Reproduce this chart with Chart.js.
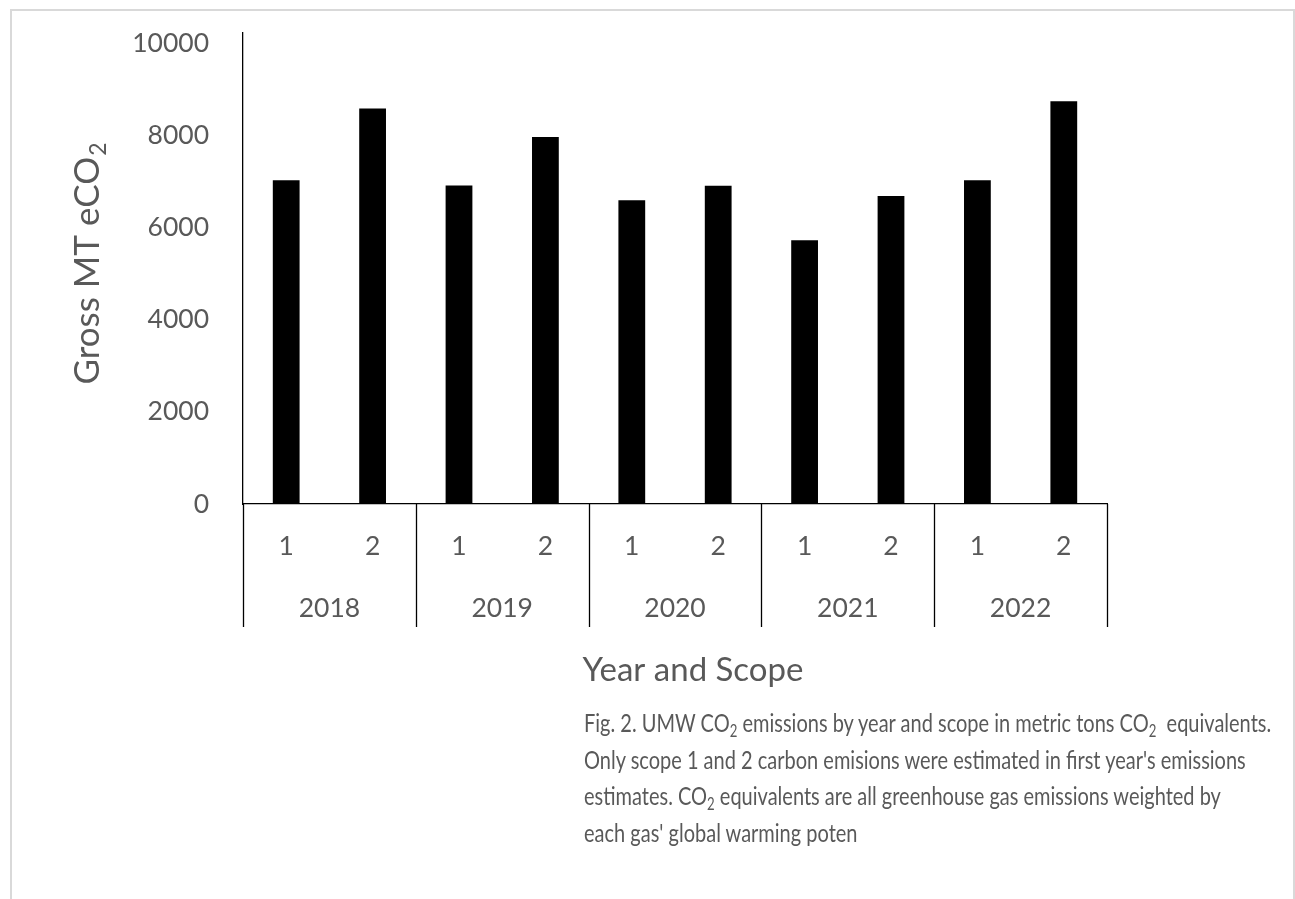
<!DOCTYPE html>
<html>
<head>
<meta charset="utf-8">
<title>UMW CO2 emissions by year and scope</title>
<script src="https://cdn.jsdelivr.net/npm/chart.js@4/dist/chart.umd.min.js"></script>
<style>
  html, body { margin: 0; padding: 0; background: #fff; }
  #wrap { position: relative; width: 1295px; height: 899px; overflow: hidden; }
  #frame { position: absolute; left: 10px; top: 9px; width: 1285px; height: 920px;
           border: 2px solid #d9d9d9; box-sizing: border-box; }
  #chart { position: absolute; left: 0; top: 0; }
  #caption { position: absolute; left: 584px; top: 704px; font-family: Lato, sans-serif;
             font-size: 25px; line-height: 36.5px; color: #595959; white-space: nowrap;
             transform: scaleX(0.8); transform-origin: 0 0; }
  #caption sub { font-size: 0.66em; vertical-align: -0.28em; line-height: 0; }
</style>
</head>
<body>
<div id="wrap">
  <div id="frame"></div>
  <canvas id="chart" width="1295" height="899"></canvas>
  <div id="caption">
    Fig. 2. UMW CO<sub>2</sub> emissions by year and scope in metric tons CO<sub>2</sub>&nbsp; equivalents.<br>
    Only scope 1 and 2 carbon emisions were estimated in first year's emissions<br>
    estimates. CO<sub>2</sub> equivalents are all greenhouse gas emissions weighted by<br>
    each gas' global warming poten
  </div>
</div>
<script>
// Emissions in metric tons CO2 equivalent, per year and scope
const years = ['2018', '2019', '2020', '2021', '2022'];
const scopes = ['1', '2'];
const scope1 = [7030, 6920, 6600, 5730, 7030];
const scope2 = [8590, 7970, 6910, 6690, 8750];
const yTicks = [0, 2000, 4000, 6000, 8000, 10000];

// Flatten into one category per (year, scope)
const labels = [];
const values = [];
years.forEach((y, i) => {
  labels.push(scopes[0]); values.push(scope1[i]);
  labels.push(scopes[1]); values.push(scope2[i]);
});

const TEXT = '#595959';
const FONT = 'Lato, sans-serif';

// Second category level (years), its separators and the axis titles
const groupAxis = {
  id: 'groupAxis',
  afterDraw(chart) {
    const { ctx, scales: { x }, chartArea } = chart;
    const top = chartArea.bottom;
    const bottom = top + 123;
    const per = scopes.length;
    ctx.save();
    ctx.strokeStyle = '#000';
    ctx.lineWidth = 1.3;
    for (let g = 0; g <= years.length; g++) {
      const px = Math.round(x.getPixelForValue(g * per - 0.5)) + 0.5;
      ctx.beginPath();
      ctx.moveTo(px, top);
      ctx.lineTo(px, bottom);
      ctx.stroke();
    }
    ctx.fillStyle = TEXT;
    ctx.font = '26.5px ' + FONT;
    ctx.textAlign = 'center';
    ctx.textBaseline = 'middle';
    years.forEach((yr, g) => {
      const cx = x.getPixelForValue(g * per + (per - 1) / 2);
      ctx.fillText(yr, cx, top + 104);
    });

    // x title
    ctx.font = '33px ' + FONT;
    ctx.textBaseline = 'alphabetic';
    ctx.fillText('Year and Scope', 693, 681);

    // y title with subscript
    ctx.translate(99, 264);
    ctx.rotate(-Math.PI / 2);
    const main = 'Gross MT eCO';
    ctx.font = '35px ' + FONT;
    const w1 = ctx.measureText(main).width;
    ctx.font = '23px ' + FONT;
    const w2 = ctx.measureText('2').width;
    const start = -(w1 + w2) / 2;
    ctx.textAlign = 'left';
    ctx.font = '35px ' + FONT;
    ctx.fillText(main, start, 0);
    ctx.font = '23px ' + FONT;
    ctx.fillText('2', start + w1 + 1, 7);
    ctx.restore();
  }
};

new Chart(document.getElementById('chart'), {
  type: 'bar',
  data: {
    labels: labels,
    datasets: [{
      data: values,
      backgroundColor: '#000',
      borderWidth: 0,
      barPercentage: 0.31,
      categoryPercentage: 1
    }]
  },
  options: {
    responsive: false,
    animation: false,
    devicePixelRatio: 1,
    layout: { padding: { left: 0, top: 33, right: 188, bottom: 0 } },
    plugins: { legend: { display: false }, tooltip: { enabled: false } },
    scales: {
      y: {
        min: 0,
        max: 10230,
        afterBuildTicks(scale) { scale.ticks = yTicks.map(v => ({ value: v })); },
        afterFit(scale) {
          scale.width = 243;
          scale.paddingTop = 0;
          scale.paddingBottom = 0;
        },
        grid: { display: true, drawOnChartArea: false, drawTicks: false },
        border: { display: true, color: '#000', width: 1.3 },
        ticks: {
          color: TEXT, font: { family: FONT, size: 26.5 }, padding: 34,
          callback: v => String(v)
        }
      },
      x: {
        afterFit(scale) { scale.height = 395; },
        grid: { display: true, drawOnChartArea: false, drawTicks: false },
        border: { display: true, color: '#000', width: 1.3 },
        ticks: { color: TEXT, font: { family: FONT, size: 26.5 }, padding: 27, maxRotation: 0, autoSkip: false }
      }
    }
  },
  plugins: [groupAxis]
});
</script>
</body>
</html>
